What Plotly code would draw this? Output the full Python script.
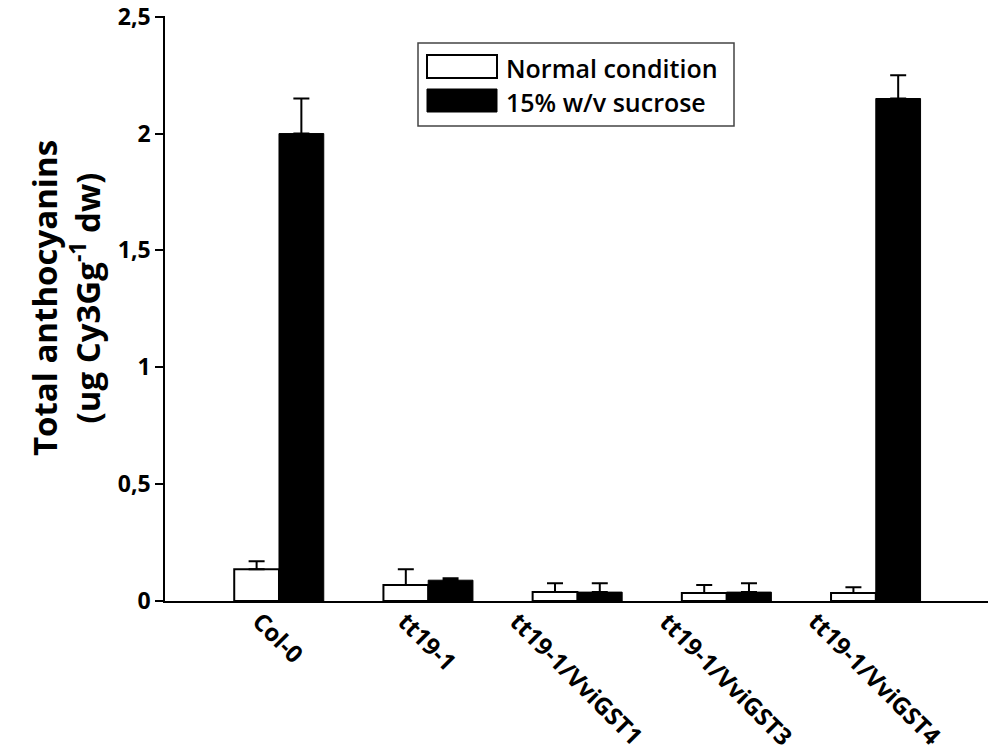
import plotly.graph_objects as go

categories = ["Col-0", "tt19-1", "tt19-1/VviGST1", "tt19-1/VviGST3", "tt19-1/VviGST4"]
normal_vals = [0.136, 0.068, 0.038, 0.034, 0.034]
normal_err = [0.034, 0.068, 0.038, 0.034, 0.025]
sucrose_vals = [2.0, 0.089, 0.038, 0.038, 2.15]
sucrose_err = [0.15, 0.008, 0.038, 0.038, 0.10]
ytick_vals = [0, 0.5, 1, 1.5, 2, 2.5]
ytick_text = ["0", "0,5", "1", "1,5", "2", "2,5"]
legend_labels = ["Normal condition", "15% w/v sucrose"]
y_title = "Total anthocyanins<br>(ug Cy3Gg<sup>-1</sup> dw)"

FONT = "Open Sans"

fig = go.Figure()
fig.add_trace(go.Bar(
    x=categories, y=normal_vals, name=legend_labels[0],
    marker=dict(color="white", line=dict(color="black", width=2)),
    error_y=dict(type="data", array=normal_err, arrayminus=[0] * len(normal_err),
                 symmetric=False, color="black", thickness=2, width=8),
))
fig.add_trace(go.Bar(
    x=categories, y=sucrose_vals, name=legend_labels[1],
    marker=dict(color="black", line=dict(color="black", width=1)),
    error_y=dict(type="data", array=sucrose_err, arrayminus=[0] * len(sucrose_err),
                 symmetric=False, color="black", thickness=2, width=8),
))

# plot area in page pixels: left 165, top 16, 823 x 585
L, T, W, H = 165, 16, 823, 585
def px(x):
    return (x - L) / W
def py(y):
    return (T + H - y) / H

# rotated category labels
annotations = []
for c in categories:
    annotations.append(dict(
        x=c, y=0, xref="x", yref="y", text=c, showarrow=False,
        textangle=45, xanchor="center", yanchor="top", yshift=-1,
        font=dict(family=FONT, size=24, color="black", weight="bold"),
    ))

# y-axis title
annotations.append(dict(
    x=px(66), y=py(298), xref="paper", yref="paper", text=y_title, showarrow=False,
    textangle=-90, xanchor="center", yanchor="middle",
    font=dict(family=FONT, size=33, color="black", weight="bold"),
))

# custom legend
shapes = [
    dict(type="rect", xref="paper", yref="paper", x0=px(418), x1=px(734), y0=py(126), y1=py(43),
         line=dict(color="#444", width=1.5), fillcolor="white", layer="above"),
    dict(type="rect", xref="paper", yref="paper", x0=px(427), x1=px(497), y0=py(78), y1=py(55),
         line=dict(color="black", width=2), fillcolor="white", layer="above"),
    dict(type="rect", xref="paper", yref="paper", x0=px(427), x1=px(497), y0=py(112), y1=py(89),
         line=dict(color="black", width=1), fillcolor="black", layer="above"),
]
for lbl, yc in zip(legend_labels, [68, 102]):
    annotations.append(dict(
        x=px(504), y=py(yc), xref="paper", yref="paper", text=lbl, showarrow=False,
        xanchor="left", yanchor="middle",
        font=dict(family=FONT, size=25, color="black", weight=600),
    ))

fig.update_layout(
    width=1000, height=752,
    margin=dict(l=165, r=12, t=16, b=151, autoexpand=False),
    paper_bgcolor="white", plot_bgcolor="white",
    barmode="group", bargap=0.4, bargroupgap=0,
    showlegend=False,
    shapes=shapes, annotations=annotations,
    font=dict(family=FONT, color="black"),
)
fig.update_xaxes(
    range=[-0.764, 4.752], showticklabels=False, ticks="",
    showline=True, linecolor="black", linewidth=1.5, showgrid=False, zeroline=False,
)
fig.update_yaxes(
    range=[0, 2.503], tickvals=ytick_vals, ticktext=ytick_text,
    ticks="outside", ticklen=8, tickwidth=1.5, tickcolor="black",
    tickfont=dict(family=FONT, size=23, color="black", weight="bold"),
    ticklabeloverflow="allow",
    showline=True, linecolor="black", linewidth=1.5, showgrid=False, zeroline=False,
    automargin=False,
)

fig.write_html("out.html", config={"displayModeBar": False},
               post_script="document.body.style.margin='0';")
